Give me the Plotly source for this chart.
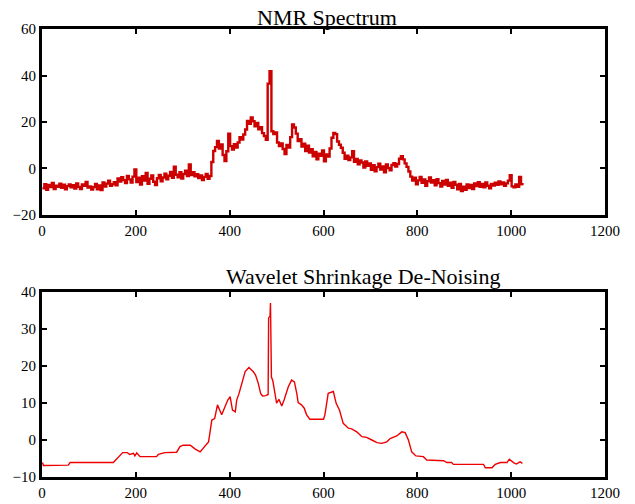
import plotly.graph_objects as go

# ---- Data: noisy NMR spectrum (sampled every 4 points) ----
nmr_x = list(range(1, 1025, 4)) + [1024]
nmr_y = [
    -8.5, -6.8, -9.2, -7.1, -8.0, -6.2, -8.8, -7.4, -7.9, -6.5, -8.3, -7.0, -9.0, -7.6, -6.9, -8.1,
    -7.2, -8.6, -6.4, -7.9, -8.8, -6.9, -7.5, -5.8, -8.2, -7.7, -9.1, -8.0, -6.6, -8.9, -7.3, -9.3,
    -6.0, -7.8, -6.5, -5.2, -7.4, -6.8, -5.9, -7.2, -4.3, -5.6, -3.8, -5.0, -6.3, -3.2, -4.7, -6.1,
    -3.5, -0.4, -5.8, -4.0, -6.9, -3.3, -5.2, -1.9, -6.6, -4.4, -3.0, -5.7, -7.1, -4.2, -2.8, -5.5,
    -3.9, -2.2, -4.6, -3.1, -1.5, -4.0, 0.8, -2.7, -3.8, -1.6, -4.3, -2.4, -1.0, -3.3, 1.7, -2.8,
    -1.6, -3.4, -2.5, -4.1, -3.0, -5.0, -3.6, -2.4, -4.4, -3.2, 2.8, 7.5, 9.2, 11.8, 8.6, 10.3,
    5.8, 3.2, 7.4, 15.0, 9.6, 8.1, 10.4, 9.0, 11.2, 13.5, 12.4, 14.6, 16.8, 20.5, 19.2, 22.0,
    20.3, 18.1, 19.6, 16.9, 17.8, 15.2, 14.0, 12.3, 36.5, 41.8, 16.0, 14.8, 15.5, 11.2, 9.6, 10.8,
    8.4, 6.2, 10.1, 9.0, 13.5, 18.9, 17.6, 15.0, 11.8, 12.6, 9.4, 10.7, 7.5, 9.8, 6.9, 8.3,
    5.2, 7.1, 4.0, 6.4, 5.5, 7.8, 3.1, 6.0, 5.1, 8.6, 13.2, 15.3, 14.8, 11.6, 10.2, 8.9,
    6.8, 4.2, 5.5, 3.6, 4.8, 7.4, 2.9, 4.1, 1.8, 3.5, 2.6, 0.4, 3.0, 1.2, 2.2, -0.6,
    1.4, -1.2, 0.6, 2.1, -0.5, 0.9, -1.6, 1.7, 0.2, -0.8, 1.5, 2.3, 0.8, 1.9, 4.2, 5.3,
    3.9, 2.2, 0.7, -1.3, -3.5, -5.2, -4.0, -6.8, -5.1, -3.6, -6.2, -4.7, -7.4, -5.5, -3.9, -6.0,
    -5.0, -7.2, -4.6, -6.3, -7.8, -5.4, -6.9, -4.9, -7.5, -6.1, -8.3, -5.8, -7.0, -8.9, -6.6, -9.7,
    -7.8, -9.2, -6.9, -8.4, -7.1, -8.8, -6.4, -7.6, -5.9, -7.9, -6.7, -8.1, -6.0, -7.4, -8.5, -6.6,
    -7.3, -6.1, -7.0, -5.6, -6.8, -6.0, -7.5, -6.4, -5.2, -2.9, -7.7, -8.1, -6.9, -7.9, -3.6, -6.8,
    -7.2,
]

# ---- Data: wavelet de-noised signal (breakpoints) ----
den_x = [1, 3, 56, 60, 152, 158, 166, 172, 182, 187, 195, 198, 202, 209, 244, 248, 262, 287,
         294, 301, 316, 326, 337, 347, 355, 362, 368, 374, 379, 383, 390, 396, 401, 406, 412,
         415, 420, 426, 433, 441, 450, 455, 461, 466, 470, 477, 482, 483, 486, 487, 489, 492,
         495, 500, 505, 511, 516, 525, 532, 538, 543, 546, 553, 559, 564, 571, 600, 603, 610,
         621, 627, 634, 642, 653, 660, 671, 682, 692, 703, 714, 724, 735, 742, 756, 767, 774,
         781, 788, 797, 813, 820, 848, 856, 863, 873, 877, 941, 945, 959, 966, 977, 991, 996,
         1005, 1011, 1019, 1024]
den_y = [-6.1, -6.9, -6.8, -6.1, -6.1, -5.2, -4.1, -3.4, -3.4, -3.9, -3.6, -4.3, -3.5, -4.5,
         -4.5, -3.9, -3.4, -3.3, -1.8, -1.4, -1.4, -2.4, -3.2, -1.8, -0.5, 5.4, 5.8, 9.5, 7.7,
         6.8, 9.0, 10.8, 11.7, 8.1, 7.6, 10.8, 12.6, 15.3, 18.5, 19.6, 18.5, 17.6, 15.3, 12.6,
         11.9, 12.0, 12.3, 33.0, 33.5, 37.0, 17.0, 16.0, 14.0, 10.0, 11.0, 9.2, 10.8, 14.4,
         16.2, 15.7, 12.6, 10.1, 9.5, 8.6, 6.8, 5.6, 5.6, 6.8, 12.6, 13.1, 9.9, 8.1, 4.5, 3.2,
         3.0, 2.2, 0.9, 0.7, 0.0, -0.7, -0.9, -0.5, 0.4, 1.1, 2.2, 2.0, 0.0, -3.2, -4.3, -4.5,
         -5.4, -5.5, -5.6, -6.1, -6.1, -6.6, -6.6, -7.5, -7.5, -6.6, -6.1, -6.1, -5.2, -6.1,
         -6.5, -5.9, -6.3]

x_ticks = [0, 200, 400, 600, 800, 1000, 1200]
top_y_ticks = [-20, 0, 20, 40, 60]
bot_y_ticks = [-10, 0, 10, 20, 30, 40]
titles = ["NMR Spectrum", "Wavelet Shrinkage De-Noising"]

FONT = "Liberation Serif, Times New Roman, serif"

fig = go.Figure()
fig.add_trace(go.Scatter(x=nmr_x, y=nmr_y, mode="lines", line=dict(color="#cc0000", width=2.4, shape="hv"),
                         xaxis="x", yaxis="y", showlegend=False))
fig.add_trace(go.Scatter(x=den_x, y=den_y, mode="lines", line=dict(color="#ee0000", width=1.4),
                         xaxis="x2", yaxis="y2", showlegend=False))

axis_common = dict(showgrid=False, zeroline=False, showline=True, linecolor="black", linewidth=3,
                   mirror="ticks", ticks="inside", ticklen=5, tickwidth=1.5, tickcolor="black",
                   automargin=False,
                   tickfont=dict(family=FONT, size=15, color="black"))

# paper spans y pixels 0..477 (t=0, b=27)
fig.update_layout(
    width=635, height=504,
    paper_bgcolor="white", plot_bgcolor="white",
    margin=dict(l=42, r=30, t=0, b=27),
    xaxis=dict(domain=[0, 1], anchor="y", range=[0, 1200], tickvals=x_ticks, **axis_common),
    yaxis=dict(domain=[0.5493, 0.9392], anchor="x", range=[-20, 60], tickvals=top_y_ticks, **axis_common),
    xaxis2=dict(domain=[0, 1], anchor="y2", range=[0, 1200], tickvals=x_ticks, **axis_common),
    yaxis2=dict(domain=[0, 0.3878], anchor="x2", range=[-10, 40], tickvals=bot_y_ticks, **axis_common),
    annotations=[
        dict(text=titles[0], xref="paper", yref="paper", x=0.507, y=0.9633, xanchor="center",
             yanchor="middle", showarrow=False, font=dict(family=FONT, size=22, color="black")),
        dict(text=titles[1], xref="paper", yref="paper", x=0.570, y=0.4193, xanchor="center",
             yanchor="middle", showarrow=False, font=dict(family=FONT, size=22, color="black")),
    ],
)

fig.write_html("out.html", config={"displayModeBar": False},
               post_script="document.body.style.margin='0';document.body.style.overflow='hidden';")
